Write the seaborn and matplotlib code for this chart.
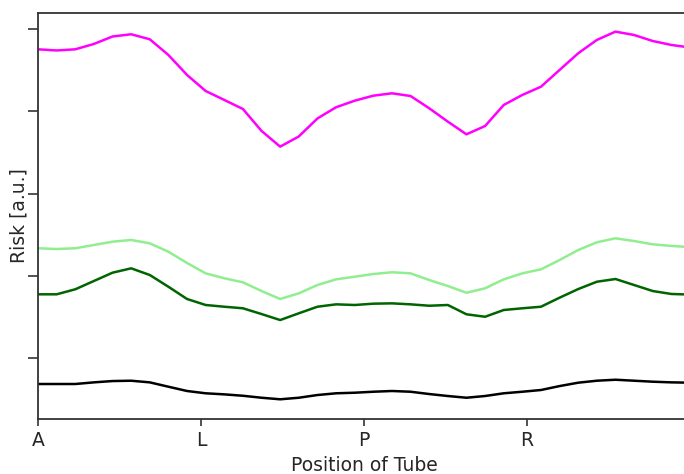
import numpy as np
import pandas as pd
import matplotlib
matplotlib.use("Agg")
import matplotlib.pyplot as plt
import seaborn as sns

# ---- data (arbitrary units) ----
position = list(range(36))
tick_positions = [0, 8.75, 17.5, 26.25, 35]
tick_labels = ["A", "L", "P", "R", "A"]

magenta = [4.755, 4.741, 4.755, 4.820, 4.911, 4.938, 4.877, 4.686, 4.443, 4.248,
           4.139, 4.029, 3.762, 3.571, 3.695, 3.914, 4.050, 4.130, 4.191, 4.220,
           4.187, 4.038, 3.875, 3.721, 3.822, 4.078, 4.200, 4.300, 4.504, 4.707,
           4.869, 4.970, 4.929, 4.856, 4.808, 4.777]
light_green = [2.335, 2.326, 2.335, 2.375, 2.415, 2.436, 2.395, 2.293, 2.156, 2.030,
               1.970, 1.921, 1.815, 1.718, 1.787, 1.888, 1.957, 1.989, 2.022, 2.043,
               2.030, 1.949, 1.876, 1.794, 1.848, 1.957, 2.030, 2.079, 2.192, 2.314,
               2.408, 2.456, 2.423, 2.383, 2.363, 2.350]
dark_green = [1.775, 1.775, 1.836, 1.937, 2.038, 2.091, 2.010, 1.867, 1.718, 1.645,
              1.624, 1.605, 1.535, 1.462, 1.544, 1.624, 1.653, 1.645, 1.661, 1.665,
              1.653, 1.636, 1.645, 1.532, 1.502, 1.584, 1.605, 1.624, 1.734, 1.839,
              1.928, 1.961, 1.888, 1.815, 1.779, 1.772]
black = [0.684, 0.684, 0.684, 0.704, 0.720, 0.724, 0.704, 0.651, 0.599, 0.571,
         0.558, 0.541, 0.517, 0.498, 0.517, 0.550, 0.571, 0.578, 0.590, 0.599,
         0.590, 0.562, 0.538, 0.517, 0.538, 0.571, 0.590, 0.611, 0.659, 0.700,
         0.724, 0.736, 0.724, 0.712, 0.704, 0.700]

series_names = ["s1", "s2", "s3", "s4"]
series_values = [magenta, light_green, dark_green, black]
colors = ["#ff00ff", "#90ee90", "#006400", "#000000"]

df = pd.concat(
    [pd.DataFrame({"Position": position, "Risk": vals, "series": name})
     for name, vals in zip(series_names, series_values)],
    ignore_index=True,
)

sns.set_style("ticks")
plt.rcParams["font.family"] = ["DejaVu Sans"]

fig = plt.figure(figsize=(6.84, 4.74), dpi=100)
ax = fig.add_axes([38 / 684, 55.3 / 474, 652 / 684, 405.4 / 474])

sns.lineplot(data=df, x="Position", y="Risk", hue="series",
             palette=dict(zip(series_names, colors)), linewidth=1.8,
             legend=False, ax=ax)

ax.set_xlim(0, 35)
ax.set_ylim(0.262, 5.193)
ax.set_xticks(tick_positions)
ax.set_xticklabels(tick_labels, fontsize=13.5)
ax.set_yticks([1, 2, 3, 4, 5])
ax.set_yticklabels([])
ax.tick_params(axis="x", length=5, width=1.2, color="#333333", pad=3.5)
ax.tick_params(axis="y", length=7, width=1.2, color="#333333")
for sp in ax.spines.values():
    sp.set_linewidth(1.3)
    sp.set_color("#333333")
ax.set_xlabel("Position of Tube", fontsize=13.5, labelpad=5)
ax.set_ylabel("Risk [a.u.]", fontsize=13.5)
ax.yaxis.set_label_coords(-0.014, 0.5)

fig.savefig("out.png", dpi=100)
